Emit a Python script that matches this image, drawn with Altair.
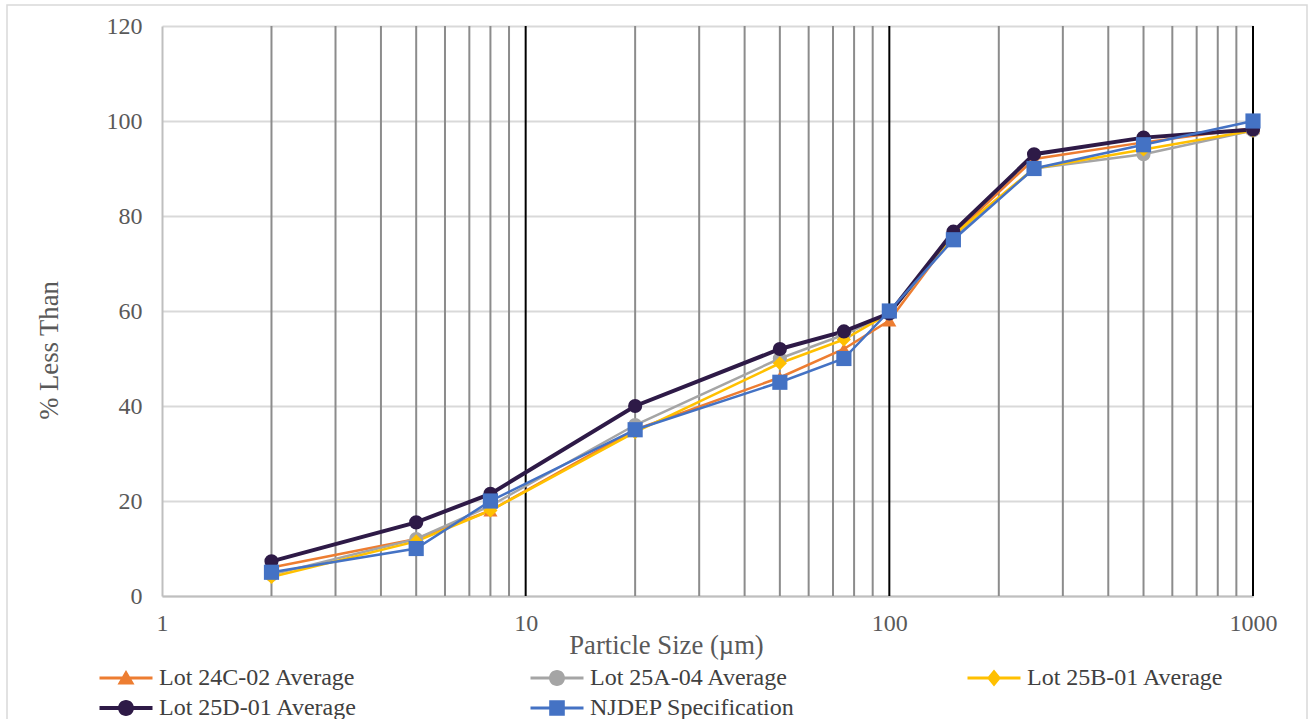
import altair as alt
import pandas as pd

# ---------------- data ----------------
sizes = [2, 5, 8, 20, 50, 75, 100, 150, 250, 500, 1000]
series_names = ["Lot 24C-02 Average", "Lot 25A-04 Average", "Lot 25B-01 Average",
                "Lot 25D-01 Average", "NJDEP Specification"]
lot24c = [6.0, 12.0, 18.0, 35.0, 46.0, 52.0, 58.0, 76.0, 92.0, 95.5, 98.5]
lot25a = [4.5, 12.0, 19.0, 36.0, 50.0, 55.0, 59.5, 75.5, 90.0, 93.0, 98.0]
lot25b = [4.0, 11.5, 18.0, 34.5, 49.0, 54.0, 59.5, 76.0, 90.0, 94.0, 98.0]
lot25d = [7.3, 15.5, 21.5, 40.0, 52.0, 55.7, 59.5, 76.7, 93.0, 96.5, 98.2]
njdep = [5, 10, 20, 35, 45, 50, 60, 75, 90, 95, 100]

x_ticks = [1, 10, 100, 1000]
y_ticks = [0, 20, 40, 60, 80, 100, 120]
minor_grid = [2, 3, 4, 5, 6, 7, 8, 9, 20, 30, 40, 50, 60, 70, 80, 90,
              200, 300, 400, 500, 600, 700, 800, 900]
major_grid = [10, 100, 1000]

colors = ["#ED7D31", "#A5A5A5", "#FFC000", "#2E1A47", "#4472C4"]
plot_shapes = ["triangle-up", "circle", "diamond", "circle", "square"]
legend_paths = [
    "M-2.65,-0.14H2.65V0.14H-2.65Z M0,-0.8L0.85,0.65L-0.85,0.65Z",
    "M-2.65,-0.14H2.65V0.14H-2.65Z M0.8,0A0.8,0.8 0 1,1 -0.8,0A0.8,0.8 0 1,1 0.8,0Z",
    "M-2.65,-0.14H2.65V0.14H-2.65Z M0,-0.85L0.7,0L0,0.85L-0.7,0Z",
    "M-2.65,-0.2H2.65V0.2H-2.65Z M0.8,0A0.8,0.8 0 1,1 -0.8,0A0.8,0.8 0 1,1 0.8,0Z",
    "M-2.65,-0.14H2.65V0.14H-2.65Z M-0.78,-0.78H0.78V0.78H-0.78Z",
]

rows = []
for name, vals in zip(series_names, [lot24c, lot25a, lot25b, lot25d, njdep]):
    for s, v in zip(sizes, vals):
        rows.append({"series": name, "size": s, "pct": v})
df = pd.DataFrame(rows)
minor_df = pd.DataFrame({"size": minor_grid})
major_df = pd.DataFrame({"size": major_grid})

FONT = "Liberation Serif"
TXT = "#595959"

xscale = alt.Scale(type="log", domain=[1, 1000])
yscale = alt.Scale(domain=[0, 120])

x_axis = alt.Axis(values=x_ticks, grid=False, ticks=False, format="d",
                  labelFont=FONT, labelFontSize=24, labelColor=TXT, labelPadding=15,
                  labelFlush=False,
                  domainColor="#BFBFBF", domainWidth=2,
                  title="Particle Size (µm)", titleFont=FONT, titleFontSize=26.67,
                  titleFontWeight="normal", titleColor=TXT,
                  titleX=504, titleY=57, titleAlign="center",
                  titleBaseline="alphabetic")
y_axis = alt.Axis(values=y_ticks, grid=True, gridColor="#D9D9D9", gridWidth=2,
                  ticks=False, labelFont=FONT, labelFontSize=24, labelColor=TXT,
                  labelPadding=20, domainColor="#BFBFBF", domainWidth=2,
                  title="% Less Than", titleFont=FONT, titleFontSize=26.67,
                  titleFontWeight="normal", titleColor=TXT,
                  titleX=-113, titleY=324, titleAngle=-90, titleAlign="center",
                  titleBaseline="middle")

X = alt.X("size:Q", scale=xscale, axis=x_axis)
Y = alt.Y("pct:Q", scale=yscale, axis=y_axis)

minor = alt.Chart(minor_df).mark_rule(color="#8C8C8C", strokeWidth=2).encode(
    x=alt.X("size:Q", scale=xscale, axis=x_axis))
major = alt.Chart(major_df).mark_rule(color="#000000", strokeWidth=2).encode(
    x=alt.X("size:Q", scale=xscale, axis=x_axis))

color_scale = alt.Scale(domain=series_names, range=colors)

lines = alt.Chart(df).mark_line().encode(
    x=X, y=Y,
    color=alt.Color("series:N", scale=color_scale, legend=None),
    strokeWidth=alt.condition(alt.datum.series == "Lot 25D-01 Average",
                              alt.value(4), alt.value(2.5)),
)

points = alt.Chart(df).mark_point(filled=True, opacity=1).encode(
    x=X, y=Y,
    color=alt.Color("series:N", scale=color_scale, legend=None),
    shape=alt.Shape("series:N", scale=alt.Scale(domain=series_names, range=plot_shapes),
                    legend=None),
    size=alt.condition(alt.datum.series == "NJDEP Specification",
                       alt.value(230), alt.value(200)),
)

leg = alt.Legend(title=None, orient="none", direction="horizontal",
                 legendX=-48, legendY=640, columns=3,
                 columnPadding=172, rowPadding=6, padding=0,
                 labelFont=FONT, labelFontSize=24, labelColor="#404040",
                 labelOffset=21, symbolSize=400, symbolStrokeWidth=0,
                 symbolOpacity=1, labelLimit=400)

legend_layer = alt.Chart(df).transform_filter("datum.size < 0").mark_point(
    filled=True, opacity=1).encode(
    x=X, y=Y,
    color=alt.Color("series:N", scale=color_scale, legend=leg),
    shape=alt.Shape("series:N", scale=alt.Scale(domain=series_names, range=legend_paths),
                    legend=leg),
)

border = alt.Chart(pd.DataFrame({"a": [0]})).mark_rect(
    fillOpacity=0, stroke="#D9D9D9", strokeWidth=1.5).encode(
    x=alt.value(-155), x2=alt.value(1145), y=alt.value(-21), y2=alt.value(700))

chart = alt.layer(border, minor, major, lines, points, legend_layer).resolve_scale(
    color="independent", shape="independent"
).properties(
    width=1091, height=570,
    autosize=alt.AutoSizeParams(type="none"),
    padding={"left": 162, "top": 26, "right": 57, "bottom": 123},
    background="white",
).configure(font=FONT).configure_view(strokeWidth=0)

chart.save("out.html", embed_options={"renderer": "svg", "actions": False})
